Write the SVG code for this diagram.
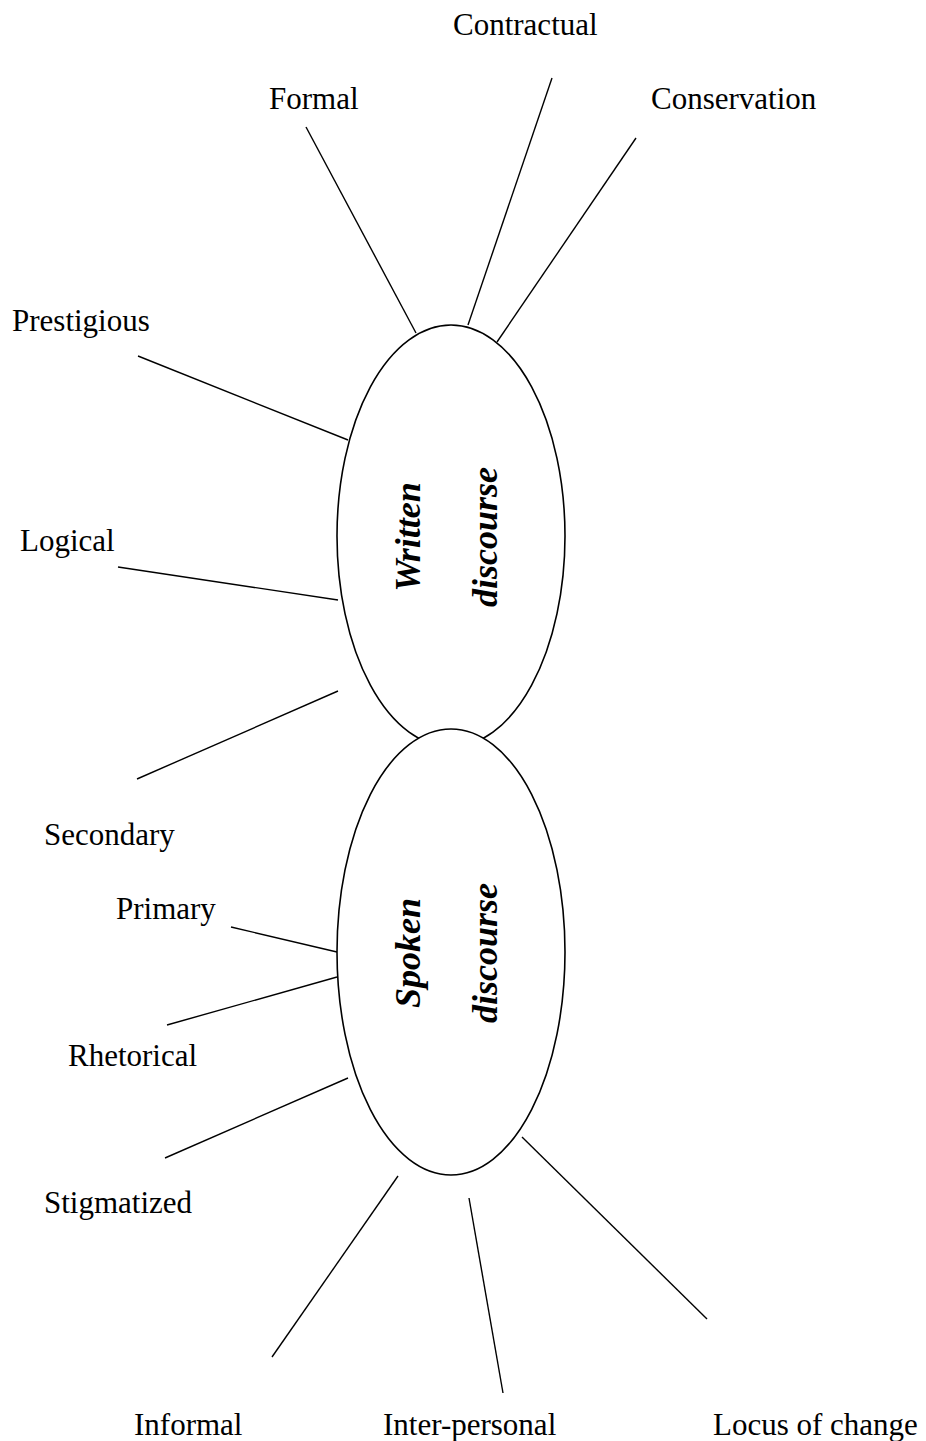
<svg xmlns="http://www.w3.org/2000/svg" width="926" height="1441" viewBox="0 0 926 1441">
<style>
.bg{fill:#ffffff}
.ell{fill:#ffffff;stroke:#000000;stroke-width:1.6}
.lbl{font-family:"Liberation Serif","Times New Roman",serif;font-size:31px;fill:#000000}
.big{font-family:"Liberation Serif","Times New Roman",serif;font-size:36px;font-weight:bold;font-style:italic;fill:#000000;text-anchor:middle}
.con line{stroke:#000000;stroke-width:1.4;stroke-linecap:butt}
</style>
<rect class="bg" x="0" y="0" width="926" height="1441"/>
<g id="connectors" class="con">
<line x1="306" y1="127" x2="416" y2="333"/>
<line x1="552" y1="78" x2="468" y2="325"/>
<line x1="636" y1="138" x2="497" y2="342"/>
<line x1="138" y1="356" x2="348" y2="440"/>
<line x1="118" y1="567" x2="338" y2="600"/>
<line x1="137" y1="779" x2="338" y2="691"/>
<line x1="231" y1="927" x2="337" y2="952"/>
<line x1="167" y1="1025" x2="337" y2="977"/>
<line x1="165" y1="1158" x2="348" y2="1078"/>
<line x1="272" y1="1357" x2="398" y2="1176"/>
<line x1="469" y1="1198" x2="503" y2="1393"/>
<line x1="522" y1="1137" x2="707" y2="1319"/>
</g>
<g id="written">
<ellipse class="ell" cx="451" cy="536" rx="114" ry="211"/>
<text class="big" transform="translate(420,537) rotate(-90)" x="0" y="0">Written</text>
<text class="big" transform="translate(497,537) rotate(-90)" x="0" y="0">discourse</text>
</g>
<g id="spoken">
<ellipse class="ell" cx="451" cy="952" rx="114" ry="223"/>
<text class="big" transform="translate(420,953) rotate(-90)" x="0" y="0">Spoken</text>
<text class="big" transform="translate(497,953) rotate(-90)" x="0" y="0">discourse</text>
</g>
<g id="contractual"><text class="lbl" x="453" y="35">Contractual</text></g>
<g id="formal"><text class="lbl" x="269" y="109">Formal</text></g>
<g id="conservation"><text class="lbl" x="651" y="109">Conservation</text></g>
<g id="prestigious"><text class="lbl" x="12" y="331">Prestigious</text></g>
<g id="logical"><text class="lbl" x="20" y="551">Logical</text></g>
<g id="secondary"><text class="lbl" x="44" y="845">Secondary</text></g>
<g id="primary"><text class="lbl" x="116" y="919">Primary</text></g>
<g id="rhetorical"><text class="lbl" x="68" y="1066">Rhetorical</text></g>
<g id="stigmatized"><text class="lbl" x="44" y="1213">Stigmatized</text></g>
<g id="informal"><text class="lbl" x="134" y="1435">Informal</text></g>
<g id="interpersonal"><text class="lbl" x="383" y="1435">Inter-personal</text></g>
<g id="locus"><text class="lbl" x="713" y="1435">Locus of change</text></g>
</svg>
